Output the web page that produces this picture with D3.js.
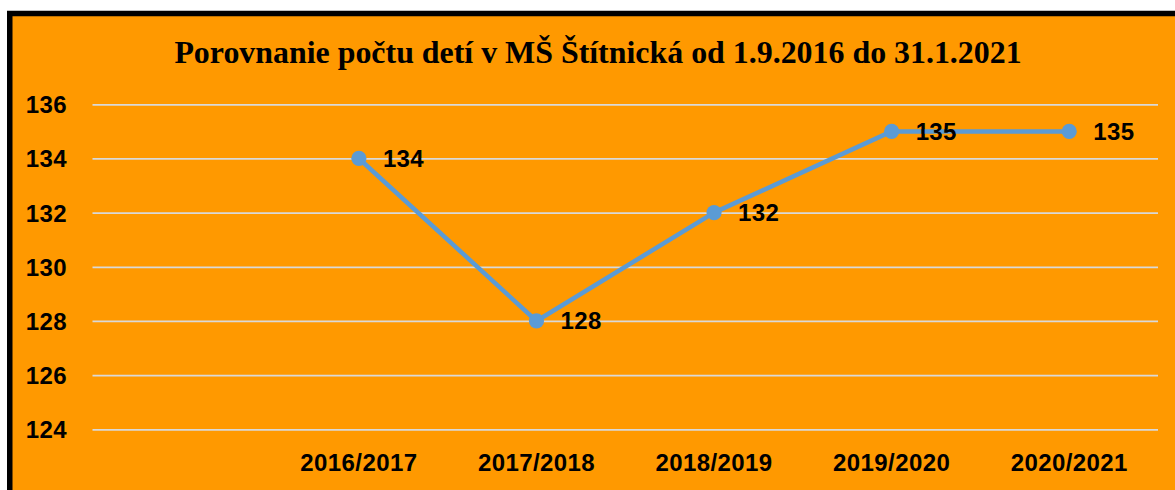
<!DOCTYPE html>
<html>
<head>
<meta charset="utf-8">
<script src="https://cdn.jsdelivr.net/npm/d3@7"></script>
<style>
  html, body { margin: 0; padding: 0; background: #fff; }
  svg { display: block; }
</style>
</head>
<body>
<div id="container"></div>
<script>
const categories = ["", "2016/2017", "2017/2018", "2018/2019", "2019/2020", "2020/2021"];
const children = [null, 134, 128, 132, 135, 135];
const yTicks = [124, 126, 128, 130, 132, 134, 136];
const title = "Porovnanie počtu detí v MŠ Štítnická od 1.9.2016 do 31.1.2021";

const width = 1175, height = 490;
const orange = "#FF9900", lineColor = "#5B9BD5", gridColor = "#D9D9D9";

const svg = d3.create("svg")
    .attr("width", width)
    .attr("height", height);

// frame: thick black edge on top and left, orange fill running off the page
svg.append("rect")
    .attr("x", 9.75)
    .attr("y", 13.5)
    .attr("width", width + 20)
    .attr("height", height + 20)
    .attr("fill", orange)
    .attr("stroke", "#000")
    .attr("stroke-width", 5.5);

svg.append("text")
    .attr("x", 598)
    .attr("y", 63)
    .attr("text-anchor", "middle")
    .style("font", "bold 31.9px 'Liberation Serif', 'Times New Roman', serif")
    .attr("fill", "#000")
    .text(title);

const x = d3.scaleBand()
    .domain(categories)
    .range([92.5, 1158]);

const y = d3.scaleLinear()
    .domain([124, 136])
    .range([429.3, 104.3]);

const labelFont = "bold 24px 'Liberation Sans', Arial, sans-serif";

// gridlines
svg.append("g")
    .attr("transform", "translate(92.5,0)")
    .call(d3.axisLeft(y).tickValues(yTicks).tickSize(-(1158 - 92.5)).tickFormat(""))
    .call(g => g.select(".domain").remove())
    .call(g => g.selectAll(".tick line")
        .attr("stroke", gridColor)
        .attr("stroke-width", 1.8));

// y axis labels
svg.append("g")
    .attr("transform", "translate(67,0)")
    .call(d3.axisLeft(y).tickValues(yTicks).tickSize(0).tickPadding(0))
    .call(g => g.select(".domain").remove())
    .call(g => g.selectAll(".tick text")
        .style("font", labelFont)
        .style("letter-spacing", "0.4px")
        .attr("fill", "#000")
        .attr("dy", "0.35em"));

// x axis labels
svg.append("g")
    .attr("transform", "translate(0,463)")
    .call(d3.axisBottom(x).tickSize(0).tickPadding(0))
    .call(g => g.select(".domain").remove())
    .call(g => g.selectAll(".tick text")
        .style("font", labelFont)
        .style("letter-spacing", "0.4px")
        .attr("fill", "#000")
        .attr("dy", "0.35em")
        .attr("y", 0));

const points = categories
    .map((c, i) => ({ cat: c, value: children[i] }))
    .filter(d => d.value != null);

const cx = d => x(d.cat) + x.bandwidth() / 2;

svg.append("path")
    .datum(points)
    .attr("fill", "none")
    .attr("stroke", lineColor)
    .attr("stroke-width", 4.5)
    .attr("stroke-linejoin", "round")
    .attr("d", d3.line().x(cx).y(d => y(d.value)));

svg.append("g")
    .selectAll("circle")
    .data(points)
    .join("circle")
    .attr("cx", cx)
    .attr("cy", d => y(d.value))
    .attr("r", 7.6)
    .attr("fill", lineColor);

svg.append("g")
    .selectAll("text")
    .data(points)
    .join("text")
    .attr("x", d => cx(d) + 24)
    .attr("y", d => y(d.value))
    .attr("dy", "0.35em")
    .style("font", labelFont)
    .style("letter-spacing", "0.4px")
    .attr("fill", "#000")
    .text(d => d.value);

document.getElementById("container").append(svg.node());
</script>
</body>
</html>
